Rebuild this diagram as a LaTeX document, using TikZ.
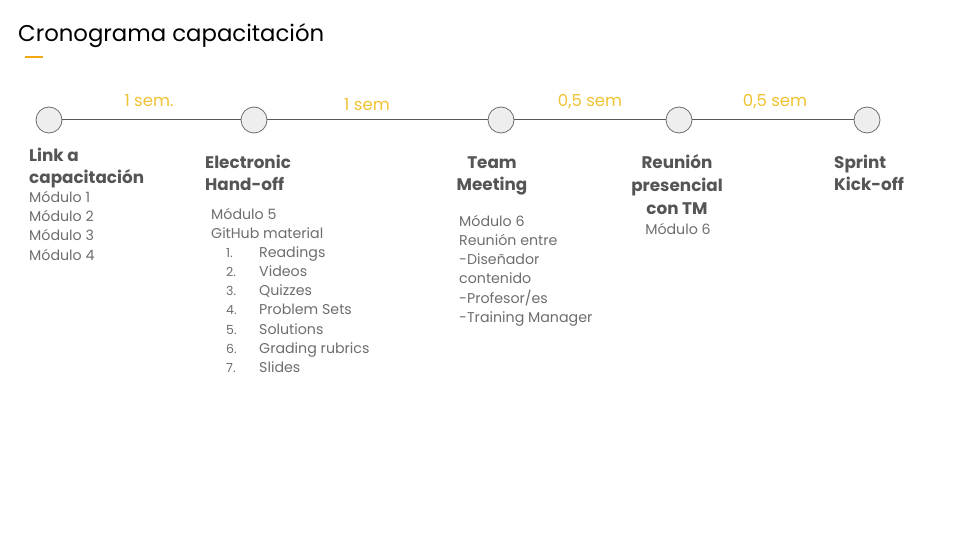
\documentclass[tikz,border=0pt]{standalone}
\usepackage{fontspec}
\setmainfont{Poppins}
\definecolor{headgray}{HTML}{555555}
\definecolor{bodygray}{HTML}{6E6E6E}
\definecolor{linegray}{HTML}{595959}
\definecolor{dotfill}{HTML}{EEEEEE}
\definecolor{gold}{HTML}{F1C232}
\definecolor{accent}{HTML}{F3A712}
\tikzset{
  milestone/.style={circle, minimum size=26pt, inner sep=0pt, fill=dotfill, draw=bodygray, line width=0.8pt},
  link/.style={draw=linegray, line width=1pt},
  duration/.style={text=gold, font=\fontsize{16.5}{19}\selectfont, inner sep=0pt},
  heading/.style={text=headgray, font=\bfseries\fontsize{16.8}{22}\selectfont, inner sep=0pt},
  detail/.style={text=bodygray, font=\fontsize{14.2}{19.3}\selectfont, inner sep=0pt, align=left},
}
\begin{document}
\begin{tikzpicture}[x=1pt,y=-1pt]
\useasboundingbox (0,0) rectangle (960,540);
\fill[white] (0,0) rectangle (960,540);

% title and accent bar
\node[anchor=base west, inner sep=0pt, font=\fontsize{22.8}{26}\selectfont] (title) at (18,42) {Cronograma capacitación};
\draw[accent, line width=2pt] (25,57) -- (43,57);

% milestones on the timeline
\node[milestone] (m1) at (49,120) {};
\node[milestone] (m2) at (254,120) {};
\node[milestone] (m3) at (501,120) {};
\node[milestone] (m4) at (679,120) {};
\node[milestone] (m5) at (867,120) {};
\draw[link] (m1) -- (m2);
\draw[link] (m2) -- (m3);
\draw[link] (m3) -- (m4);
\draw[link] (m4) -- (m5);

% durations between milestones (anchored on the baseline)
\node[duration, anchor=base] (d1) at (149,107) {1 sem.};
\node[duration, anchor=base] (d2) at (367,111) {1 sem};
\node[duration, anchor=base] (d3) at (590,107) {0,5 sem};
\node[duration, anchor=base] (d4) at (775,107) {0,5 sem};

% multi-line nodes are anchored on the baseline of their last line
% step 1
\node[heading, anchor=base west, align=left] (h1) at (29,183) {Link a\\capacitación};
\node[detail, anchor=base west] (t1) at (29,260) {Módulo 1\\Módulo 2\\Módulo 3\\Módulo 4};

% step 2
\node[heading, anchor=base west, align=left] (h2) at (205,190) {Electronic\\Hand-off};
\node[detail, anchor=base west] (t2) at (211,238.3) {Módulo 5\\GitHub material};
\node[detail, anchor=base west, font=\fontsize{12.5}{19.3}\selectfont] (n2) at (226,372.8) {1.\\2.\\3.\\4.\\5.\\6.\\7.};
\node[detail, anchor=base west] (l2) at (259,372.8) {Readings\\Videos\\Quizzes\\Problem Sets\\Solutions\\Grading rubrics\\Slides};

% step 3
\node[heading, anchor=base, align=center] (h3) at (492,190) {Team\\Meeting};
\node[detail, anchor=base west] (t3) at (459,322.5) {Módulo 6\\Reunión entre\\-Diseñador\\contenido\\-Profesor/es\\-Training Manager};

% step 4
\node[heading, anchor=base, align=center, font=\bfseries\fontsize{16.8}{23}\selectfont] (h4) at (677,214) {Reunión\\presencial\\con TM};
\node[detail, anchor=base] (t4) at (678,234) {Módulo 6};

% step 5
\node[heading, anchor=base west, align=left] (h5) at (834,190) {Sprint\\Kick-off};
\end{tikzpicture}
\end{document}
